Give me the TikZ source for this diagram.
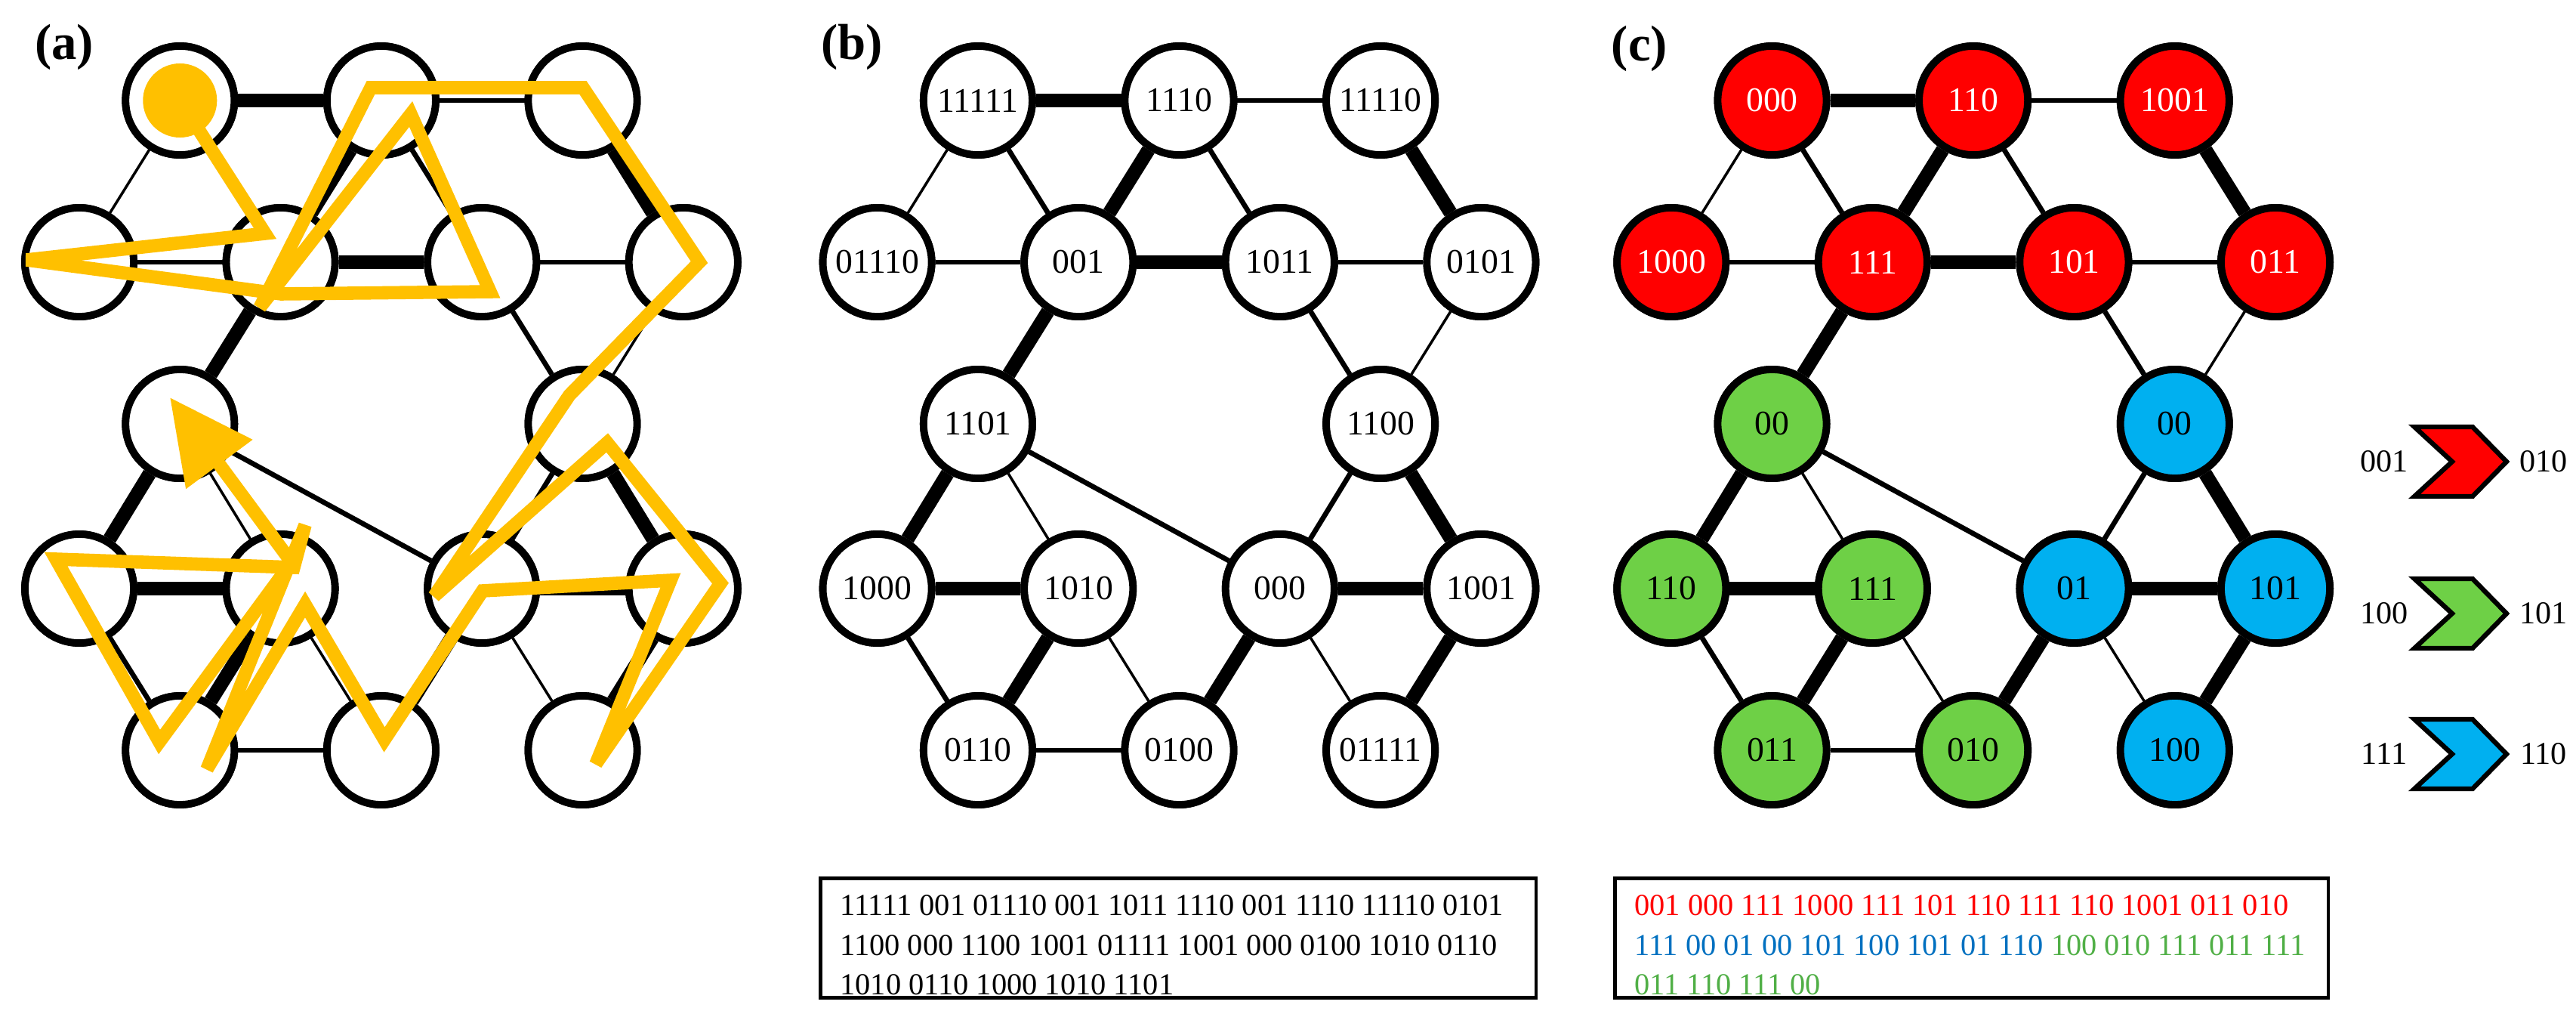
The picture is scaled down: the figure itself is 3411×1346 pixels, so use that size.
\documentclass[tikz,border=0pt]{standalone}
\usepackage{fontspec}
\setmainfont{Liberation Serif}
\usetikzlibrary{arrows.meta}

\definecolor{walkcolor}{RGB}{255,192,0}
\definecolor{redgrp}{RGB}{255,0,0}
\definecolor{greengrp}{RGB}{110,208,70}
\definecolor{bluegrp}{RGB}{0,176,240}
\definecolor{bluetext}{RGB}{0,112,192}
\definecolor{greentext}{RGB}{80,175,70}

\tikzset{
  vertex/.style={circle, draw=black, line width=2.8pt, fill=white, minimum size=1.44cm,
    inner sep=0pt, font=\fontsize{13}{15}\selectfont},
  thin/.style={line width=1pt},
  mid/.style={line width=1.9pt},
  thick/.style={line width=5.2pt},
  panellabel/.style={font=\bfseries\fontsize{19}{21}\selectfont},
  chevron/.style={draw=black, line width=1.8pt},
  seqbox/.style={draw=black, line width=1.3pt, anchor=north west, inner sep=0pt}
}

% node grid: name/column/row/label
\newcommand{\graphpanel}[2]{%
  \foreach \n/\c/\r/\t in {#2}{
    \node[vertex] (#1\n) at (105+133.3*\c, \r) {\t};
  }
}
\newcommand{\graphedges}[1]{%
  \foreach \u/\v/\w in {11/13/thick,13/15/mid,11/20/thin,11/22/mid,13/22/thick,13/24/mid,
      15/26/thick,20/22/mid,22/24/thick,24/26/mid,22/31/thick,24/35/mid,26/35/thin,
      31/44/mid,31/40/thick,31/42/thin,35/44/mid,35/46/thick,40/42/thick,44/46/thick,
      40/51/mid,42/51/thick,42/53/thin,44/53/thick,44/55/thin,46/55/thick,51/53/mid}{
    \draw[\w] (#1\u) -- (#1\v);
  }
}

\begin{document}
\begin{tikzpicture}[x=0.01cm, y=-0.01cm]
\useasboundingbox (0,0) rectangle (3411,1346);

%% (a)
\node[panellabel] (la) at (85,62) {(a)};
\graphpanel{a}{11/1/133/,13/3/133/,15/5/133/,20/0/347/,22/2/347/,24/4/347/,26/6/347/,
  31/1/561/,35/5/561/,40/0/779/,42/2/779/,44/4/779/,46/6/779/,51/1/993/,53/3/993/,55/5/993/}
\graphedges{a}
\foreach \n in {11,13,15,20,22,24,26,31,35,40,42,44,46,51,53,55}{
  \node[vertex] at (a\n) {};
}
\node[circle, fill=walkcolor, minimum size=0.98cm, inner sep=0pt] (start) at (a11) {};
\draw[walkcolor, line width=5pt, line join=miter, miter limit=3,
    -{Triangle[length=1.1cm,width=1.05cm]}]
  (start.center) -- (351,309) -- (35,344) -- (372,389) -- (649,386) -- (544,151)
  -- (344,407) -- (491,116) -- (772,116) -- (926,347) -- (754,523) -- (575,789)
  -- (804,586) -- (954,772) -- (789,1011) -- (888,768) -- (639,782) -- (509,979)
  -- (404,800) -- (274,1018) -- (404,695) -- (389,751) -- (74,740) -- (211,982)
  -- (386,744) -- (225,526);

%% (b)
\node[panellabel] (lb) at (1128,62) {(b)};
\begin{scope}[xshift=10.56cm]
\graphpanel{b}{11/1/133/,13/3/133/,15/5/133/,20/0/347/,22/2/347/,24/4/347/,26/6/347/,
  31/1/561/,35/5/561/,40/0/779/,42/2/779/,44/4/779/,46/6/779/,51/1/993/,53/3/993/,55/5/993/}
\graphedges{b}
\foreach \n/\t in {11/11111,13/1110,15/11110,20/01110,22/001,24/1011,26/0101,31/1101,
  35/1100,40/1000,42/1010,44/000,46/1001,51/0110,53/0100,55/01111}{
  \node[vertex] at (b\n) {\t};
}
\end{scope}
\node[seqbox, minimum width=9.47cm, minimum height=1.58cm] (seqb) at (1084,1160) {};
\node[anchor=north west, align=left, font=\fontsize{11.5}{15}\selectfont] (seqbtext) at (1100,1172)
  {11111 001 01110 001 1011 1110 001 1110 11110 0101\\
   1100 000 1100 1001 01111 1001 000 0100 1010 0110\\
   1010 0110 1000 1010 1101};

%% (c)
\node[panellabel] (lc) at (2171,64) {(c)};
\begin{scope}[xshift=21.07cm]
\graphpanel{c}{11/1/133/,13/3/133/,15/5/133/,20/0/347/,22/2/347/,24/4/347/,26/6/347/,
  31/1/561/,35/5/561/,40/0/779/,42/2/779/,44/4/779/,46/6/779/,51/1/993/,53/3/993/,55/5/993/}
\graphedges{c}
\foreach \n/\t in {11/000,13/110,15/1001,20/1000,22/111,24/101,26/011}{
  \node[vertex, fill=redgrp, text=white] at (c\n) {\t};
}
\foreach \n/\t in {31/00,40/110,42/111,51/011,53/010}{
  \node[vertex, fill=greengrp] at (c\n) {\t};
}
\foreach \n/\t in {35/00,44/01,46/101,55/100}{
  \node[vertex, fill=bluegrp] at (c\n) {\t};
}
\end{scope}

% legend chevrons
\foreach \y/\col/\l/\r in {611/redgrp/001/010, 812/greengrp/100/101, 998/bluegrp/111/110}{
  \filldraw[chevron, fill=\col] (3197,\y-46) -- (3274,\y-46) -- (3319,\y) -- (3274,\y+46)
    -- (3197,\y+46) -- (3247,\y) -- cycle;
  \node[font=\fontsize{12}{14}\selectfont] at (3157,\y) {\l};
  \node[font=\fontsize{12}{14}\selectfont] at (3368,\y) {\r};
}

\node[seqbox, minimum width=9.44cm, minimum height=1.58cm] (seqc) at (2136,1160) {};
\node[anchor=north west, align=left, font=\fontsize{11.5}{15}\selectfont] (seqctext) at (2152,1172)
  {\textcolor{redgrp}{001 000 111 1000 111 101 110 111 110 1001 011 010}\\
   \textcolor{bluetext}{111 00 01 00 101 100 101 01 110} \textcolor{greentext}{100 010 111 011 111}\\
   \textcolor{greentext}{011 110 111 00}};
\end{tikzpicture}
\end{document}
